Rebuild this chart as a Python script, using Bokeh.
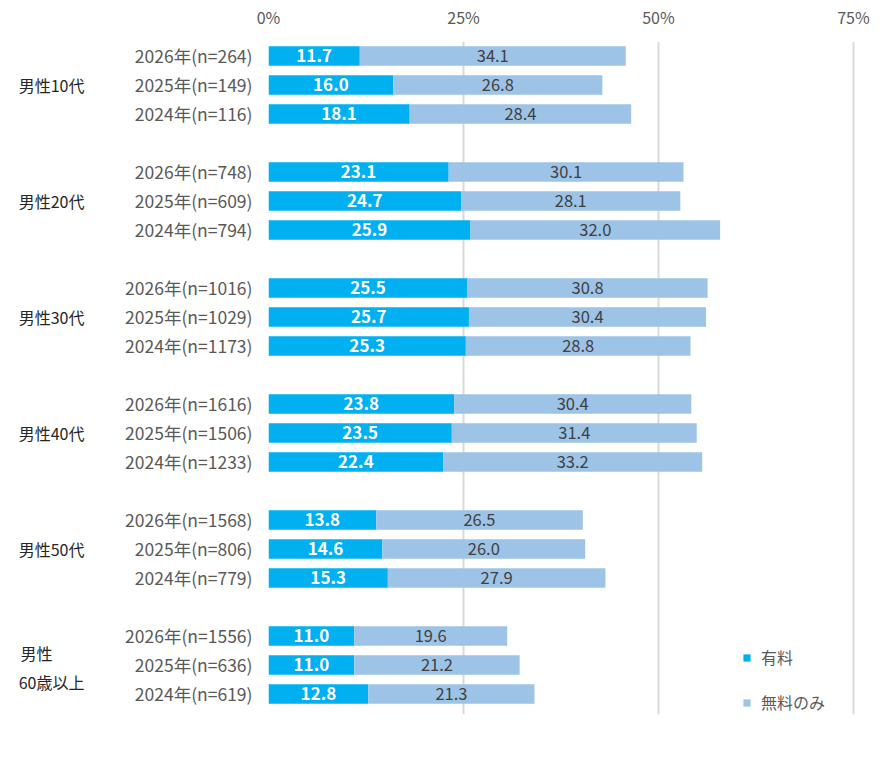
from bokeh.plotting import figure
from bokeh.models import (Range1d, FixedTicker, LinearAxis, ColumnDataSource,
                          Legend, LegendItem)
from bokeh.core.properties import value
from bokeh.embed import file_html
from bokeh.resources import INLINE

groups = ["男性10代", "男性20代", "男性30代", "男性40代", "男性50代", "男性\u3000\u3000\n60歳以上"]
row_labels = [
    "2026年(n=264)", "2025年(n=149)", "2024年(n=116)",
    "2026年(n=748)", "2025年(n=609)", "2024年(n=794)",
    "2026年(n=1016)", "2025年(n=1029)", "2024年(n=1173)",
    "2026年(n=1616)", "2025年(n=1506)", "2024年(n=1233)",
    "2026年(n=1568)", "2025年(n=806)", "2024年(n=779)",
    "2026年(n=1556)", "2025年(n=636)", "2024年(n=619)",
]
paid = [11.7, 16.0, 18.1, 23.1, 24.7, 25.9, 25.5, 25.7, 25.3,
        23.8, 23.5, 22.4, 13.8, 14.6, 15.3, 11.0, 11.0, 12.8]
free = [34.1, 26.8, 28.4, 30.1, 28.1, 32.0, 30.8, 30.4, 28.8,
        30.4, 31.4, 33.2, 26.5, 26.0, 27.9, 19.6, 21.2, 21.3]
x_ticks = [0, 25, 50, 75]

FONT = "Noto Sans CJK JP"
PAID_C = "#00B0F0"
FREE_C = "#9DC3E6"

# row positions in tenths of a slot (integers so the tick overrides match)
ys = []
for g in range(len(groups)):
    for k in range(3):
        ys.append(10 * (4 * g + k) + 5)
group_ys = [10 * (4 * g) + 15 for g in range(len(groups))]
group_ys[-1] += 1  # two-line label sits slightly lower

src = ColumnDataSource(dict(
    y=ys, paid=paid, free=free,
    total=[a + b for a, b in zip(paid, free)],
    paid_mid=[a / 2 for a in paid],
    free_mid=[a + b / 2 for a, b in zip(paid, free)],
    paid_txt=[f"{v:.1f}" for v in paid],
    free_txt=[f"{v:.1f}" for v in free],
))

p = figure(width=870, height=756, output_backend="svg", toolbar_location=None,
           x_range=Range1d(0, 77.18), y_range=Range1d(232.07, 0),
           x_axis_location="above", min_border_left=268, min_border_right=0,
           min_border_top=41, min_border_bottom=42)
p.outline_line_color = None
p.background_fill_color = "white"

# x axis (top)
xa = p.xaxis[0]
xa.ticker = FixedTicker(ticks=x_ticks)
xa.major_label_overrides = {t: f"{t}%" for t in x_ticks}
xa.axis_line_color = None
xa.major_tick_line_color = None
xa.minor_tick_line_color = None
xa.major_label_text_font = FONT
xa.major_label_text_font_size = "16px"
xa.major_label_text_color = "#595959"
xa.major_label_standoff = 7

p.xgrid.ticker = FixedTicker(ticks=x_ticks)
p.xgrid.grid_line_color = "#D9D9D9"
p.xgrid.grid_line_width = 2
p.ygrid.grid_line_color = None

# y axis: row labels
ya = p.yaxis[0]
ya.ticker = FixedTicker(ticks=ys)
ya.major_label_overrides = {y: lab for y, lab in zip(ys, row_labels)}
ya.axis_line_color = None
ya.major_tick_line_color = None
ya.minor_tick_line_color = None
ya.major_label_text_font = FONT
ya.major_label_text_font_size = "17.5px"
ya.major_label_text_color = "#595959"
ya.major_label_standoff = 10

# group axis
ga = LinearAxis(ticker=FixedTicker(ticks=group_ys),
                major_label_overrides={y: lab for y, lab in zip(group_ys, groups)})
ga.axis_line_color = None
ga.major_tick_line_color = None
ga.minor_tick_line_color = None
ga.major_label_text_font = FONT
ga.major_label_text_font_size = "16px"
ga.major_label_text_color = "#262626"
ga.major_label_text_line_height = 1.21
ga.major_label_standoff = 32
p.add_layout(ga, "left")

r1 = p.hbar(y="y", left=0, right="paid", height=6.8, source=src,
            fill_color=PAID_C, line_color=None)
r2 = p.hbar(y="y", left="paid", right="total", height=6.8, source=src,
            fill_color=FREE_C, line_color=None)

p.text(x="paid_mid", y="y", text="paid_txt", source=src,
       text_font=value(FONT), text_font_size="17px", text_font_style="bold",
       text_color="white", text_align="center", text_baseline="middle")
p.text(x="free_mid", y="y", text="free_txt", source=src,
       text_font=value(FONT), text_font_size="16.5px",
       text_color="#404040", text_align="center", text_baseline="middle")

legend = Legend(items=[LegendItem(label="有料", renderers=[r1]),
                       LegendItem(label="無料のみ", renderers=[r2])],
                location=(474, 0), orientation="vertical",
                glyph_width=9, glyph_height=9, label_height=24,
                spacing=21, padding=0, margin=0,
                label_text_font=FONT, label_text_font_size="16px",
                label_text_color="#595959", label_standoff=10,
                border_line_color=None, background_fill_alpha=0)
p.add_layout(legend, "center")

open("out.html", "w").write(file_html(p, INLINE))
